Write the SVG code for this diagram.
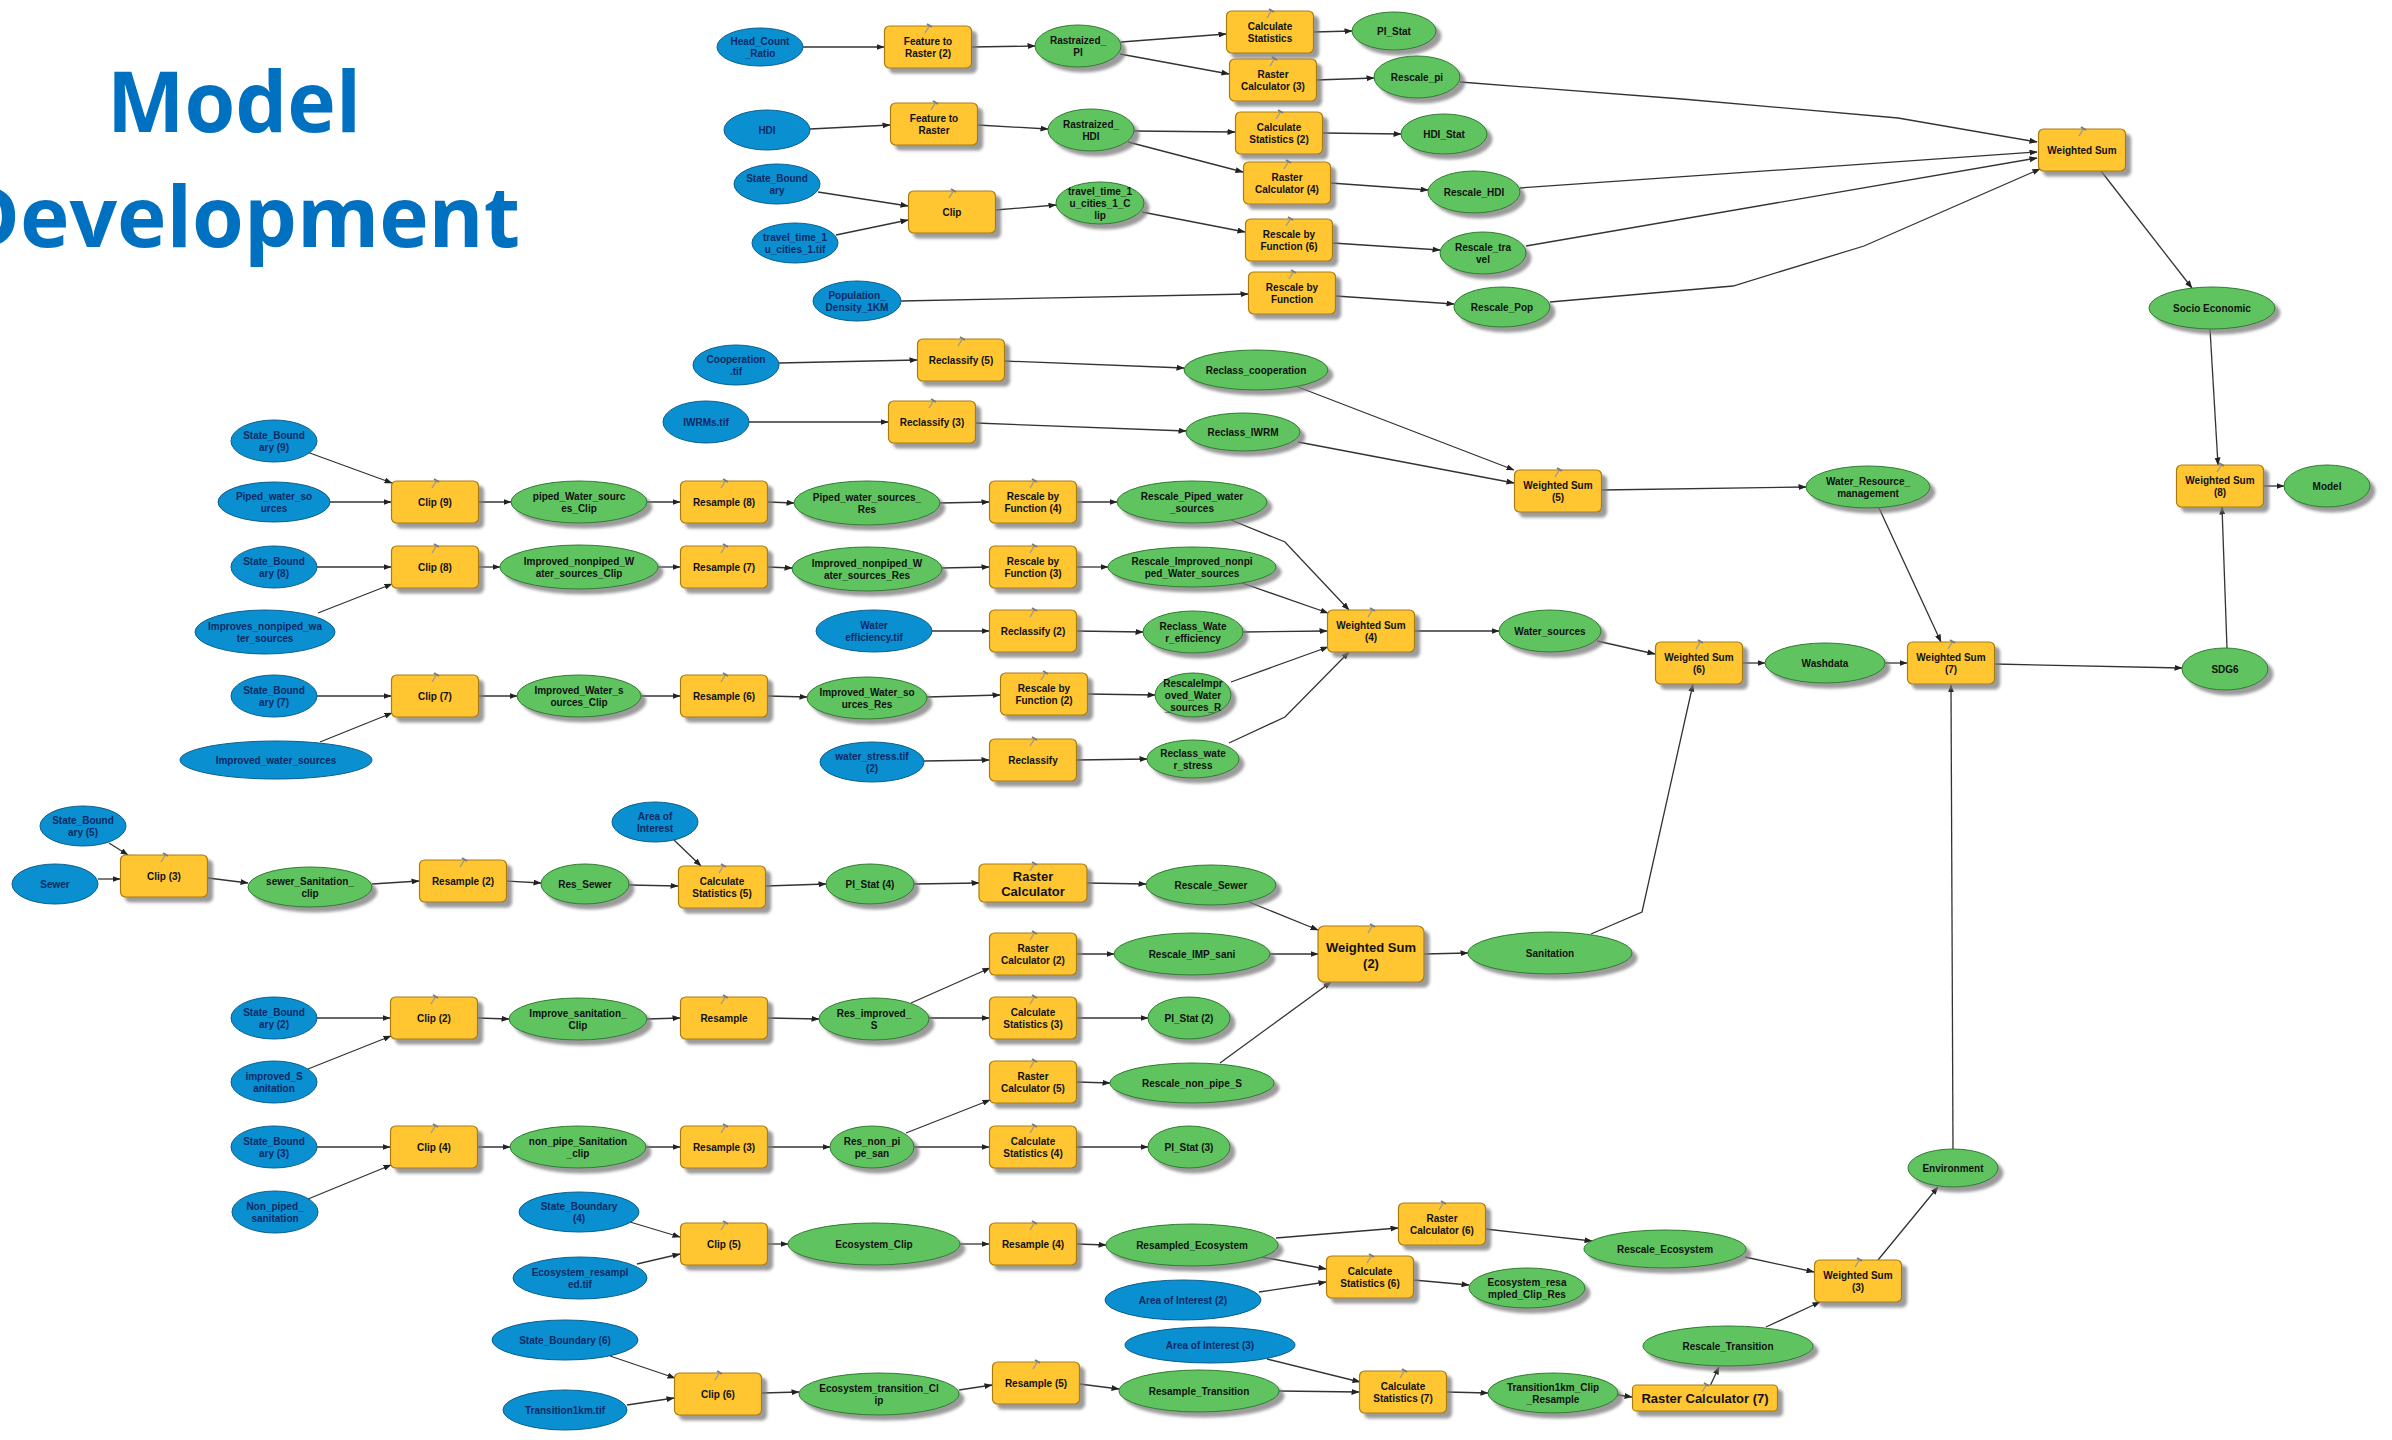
<svg xmlns="http://www.w3.org/2000/svg" xmlns:xlink="http://www.w3.org/1999/xlink" width="2392" height="1440" viewBox="0 0 2392 1440">
<defs>
<style>
.b{fill:#0A90D0;stroke:#0B5E8E;stroke-width:1}
.g{fill:#5EC45E;stroke:#2F7A2F;stroke-width:1;filter:url(#sh)}
.y{fill:#FFC631;stroke:#A97C10;stroke-width:1.2;filter:url(#sh)}
.t{font-family:"Liberation Sans",Arial,sans-serif;font-weight:bold;font-size:10px;fill:#111;text-anchor:middle;dominant-baseline:central}
.tb{fill:#0B2A66}
.tl{font-size:13px}
.c{fill:none;stroke:#333;stroke-width:1.3;marker-end:url(#ah)}
.title{font-family:"Open Sans","Noto Sans",sans-serif;font-weight:bold;font-size:85px;fill:#0070C0}
</style>
<marker id="ah" markerWidth="8" markerHeight="6" refX="7.5" refY="3" orient="auto" markerUnits="userSpaceOnUse"><path d="M0,0 L8,3 L0,6 z" fill="#222"/></marker>
<filter id="sh" x="-20%" y="-20%" width="150%" height="170%"><feDropShadow dx="5" dy="5" stdDeviation="1.5" flood-color="#7a7a7a" flood-opacity="0.75"/></filter>
<symbol id="hm" viewBox="0 0 10 12" width="10" height="12"><path d="M2,11 L7,3" stroke="#9a9a9a" stroke-width="1.4"/><path d="M4,2 L9,5" stroke="#7a7a7a" stroke-width="2"/></symbol>
</defs>
<rect width="2392" height="1440" fill="#ffffff"/>
<g id="title">
<text class="title" x="107" y="132" textLength="254" lengthAdjust="spacingAndGlyphs">Model</text>
<text class="title" x="-42" y="247" textLength="562" lengthAdjust="spacingAndGlyphs">Development</text>
</g>
<g id="connectors">
<path class="c" d="M803,47 L884,47"/>
<path class="c" d="M971.5,47 L1035,46"/>
<path class="c" d="M1121,42 L1226,34"/>
<path class="c" d="M1120,54 L1229,74"/>
<path class="c" d="M1313.5,32 L1352,31"/>
<path class="c" d="M1316.5,80 L1374,78"/>
<path class="c" d="M1460,82 L1682,99 L1898,118 L2037,142"/>
<path class="c" d="M810,129 L890,125"/>
<path class="c" d="M977.5,125 L1048,129"/>
<path class="c" d="M1134,131 L1235,132"/>
<path class="c" d="M1128,142 L1243,172"/>
<path class="c" d="M1322.5,133 L1401,134"/>
<path class="c" d="M1330.5,183 L1428,190"/>
<path class="c" d="M1520,188 L2037,152"/>
<path class="c" d="M818,192 L908,206"/>
<path class="c" d="M836,235 L908,220"/>
<path class="c" d="M995.5,210 L1056,205"/>
<path class="c" d="M1142,212 L1245,232"/>
<path class="c" d="M1332.5,243 L1440,250"/>
<path class="c" d="M1526,246 L2037,158"/>
<path class="c" d="M901,301 L1248,294"/>
<path class="c" d="M1335.5,296 L1454,304"/>
<path class="c" d="M1550,302 L1733,286 L1864,246 L2040,169"/>
<path class="c" d="M2101,171 L2192,288"/>
<path class="c" d="M2210,329 L2218,465"/>
<path class="c" d="M2263.5,486 L2284,486"/>
<path class="c" d="M2227,648 L2222,507"/>
<path class="c" d="M1994.5,664 L2182,668"/>
<path class="c" d="M1885,663 L1907,663"/>
<path class="c" d="M1742.5,663 L1765,663"/>
<path class="c" d="M1597,641 L1655,654"/>
<path class="c" d="M1879,508 L1941,642"/>
<path class="c" d="M1601.5,490 L1806,487"/>
<path class="c" d="M1298,387 L1514,470"/>
<path class="c" d="M1298,442 L1514,483"/>
<path class="c" d="M779,363 L917,360"/>
<path class="c" d="M1004.5,361 L1184,368"/>
<path class="c" d="M749,422 L888,422"/>
<path class="c" d="M975.5,423 L1186,431"/>
<path class="c" d="M1414.5,631 L1499,631"/>
<path class="c" d="M1231,520 L1285,542 L1349,610"/>
<path class="c" d="M1242,583 L1328,613"/>
<path class="c" d="M1243,632 L1327,631"/>
<path class="c" d="M1231,682 L1328,647"/>
<path class="c" d="M1229,743 L1285,717 L1349,652"/>
<path class="c" d="M932,631 L989,631"/>
<path class="c" d="M1076.5,631 L1143,632"/>
<path class="c" d="M924,761 L989,760"/>
<path class="c" d="M1076.5,760 L1147,759"/>
<path class="c" d="M307,452 L392,483"/>
<path class="c" d="M330,502 L391,502"/>
<path class="c" d="M478.5,502 L511,502"/>
<path class="c" d="M647,502 L680,502"/>
<path class="c" d="M767.5,502 L794,503"/>
<path class="c" d="M940,503 L989,502"/>
<path class="c" d="M1076.5,502 L1117,502"/>
<path class="c" d="M317,567 L391,567"/>
<path class="c" d="M318,613 L392,584"/>
<path class="c" d="M478.5,567 L500,567"/>
<path class="c" d="M658,567 L680,567"/>
<path class="c" d="M767.5,567 L792,568"/>
<path class="c" d="M942,568 L989,567"/>
<path class="c" d="M1076.5,567 L1108,567"/>
<path class="c" d="M317,696 L391,696"/>
<path class="c" d="M320,742 L392,713"/>
<path class="c" d="M478.5,696 L517,696"/>
<path class="c" d="M641,696 L680,696"/>
<path class="c" d="M767.5,696 L807,697"/>
<path class="c" d="M927,697 L1000,695"/>
<path class="c" d="M1087.5,694 L1155,695"/>
<path class="c" d="M109,843 L128,855"/>
<path class="c" d="M98,879 L120,879"/>
<path class="c" d="M208,878 L248,883"/>
<path class="c" d="M372,884 L419,881"/>
<path class="c" d="M506.5,881 L541,883"/>
<path class="c" d="M629,885 L678,886"/>
<path class="c" d="M674,840 L701,866"/>
<path class="c" d="M765.5,886 L826,884"/>
<path class="c" d="M914,884 L979,883"/>
<path class="c" d="M1087,883 L1146,884"/>
<path class="c" d="M1249,902 L1318,930"/>
<path class="c" d="M1270,954 L1318,954"/>
<path class="c" d="M1220,1063 L1331,982"/>
<path class="c" d="M1424,954 L1468,953"/>
<path class="c" d="M1591,934 L1642,912 L1693,684"/>
<path class="c" d="M317,1018 L390,1018"/>
<path class="c" d="M308,1069 L391,1036"/>
<path class="c" d="M477.5,1018 L509,1019"/>
<path class="c" d="M647,1019 L680,1018"/>
<path class="c" d="M767.5,1018 L819,1019"/>
<path class="c" d="M911,1003 L990,968"/>
<path class="c" d="M929,1018 L989,1018"/>
<path class="c" d="M1076.5,954 L1114,954"/>
<path class="c" d="M1076.5,1018 L1148,1018"/>
<path class="c" d="M1076.5,1082 L1110,1083"/>
<path class="c" d="M317,1147 L390,1147"/>
<path class="c" d="M308,1199 L391,1165"/>
<path class="c" d="M477.5,1147 L510,1147"/>
<path class="c" d="M646,1147 L680,1147"/>
<path class="c" d="M767.5,1147 L830,1147"/>
<path class="c" d="M906,1133 L990,1100"/>
<path class="c" d="M914,1147 L989,1147"/>
<path class="c" d="M1076.5,1147 L1148,1147"/>
<path class="c" d="M630,1222 L680,1237"/>
<path class="c" d="M637,1264 L680,1254"/>
<path class="c" d="M767.5,1244 L788,1244"/>
<path class="c" d="M960,1244 L989,1244"/>
<path class="c" d="M1076.5,1244 L1106,1245"/>
<path class="c" d="M1276,1238 L1398,1228"/>
<path class="c" d="M1262,1257 L1326,1269"/>
<path class="c" d="M1259,1292 L1326,1282"/>
<path class="c" d="M1413.5,1280 L1469,1285"/>
<path class="c" d="M1485.5,1229 L1592,1241"/>
<path class="c" d="M1745,1257 L1814,1272"/>
<path class="c" d="M1766,1327 L1820,1302"/>
<path class="c" d="M1878,1260 L1938,1187"/>
<path class="c" d="M1953,1149 L1951,685"/>
<path class="c" d="M610,1356 L675,1378"/>
<path class="c" d="M627,1405 L674,1398"/>
<path class="c" d="M761.5,1393 L799,1392"/>
<path class="c" d="M959,1390 L992,1385"/>
<path class="c" d="M1079.5,1384 L1119,1389"/>
<path class="c" d="M1279,1391 L1359,1392"/>
<path class="c" d="M1267,1359 L1360,1382"/>
<path class="c" d="M1446.5,1392 L1488,1393"/>
<path class="c" d="M1618,1395 L1632,1397"/>
<path class="c" d="M1710,1386 L1719,1367"/>
</g>
<g id="n_hcr"><ellipse class="b" cx="760" cy="47" rx="43" ry="19"/><text class="t tb"><tspan x="760" y="41">Head_Count</tspan><tspan x="760" y="53">_Ratio</tspan></text></g>
<g id="n_ftr2"><rect class="y" x="884.5" y="26" width="87" height="42" rx="5"/><use xlink:href="#hm" x="923" y="22"/><text class="t"><tspan x="928" y="41">Feature to</tspan><tspan x="928" y="53">Raster (2)</tspan></text></g>
<g id="n_rpi"><ellipse class="g" cx="1078" cy="46" rx="43" ry="21"/><text class="t"><tspan x="1078" y="40">Rastraized_</tspan><tspan x="1078" y="52">PI</tspan></text></g>
<g id="n_cs"><rect class="y" x="1226.5" y="11" width="87" height="42" rx="5"/><use xlink:href="#hm" x="1265" y="7"/><text class="t"><tspan x="1270" y="26">Calculate</tspan><tspan x="1270" y="38">Statistics</tspan></text></g>
<g id="n_pistat"><ellipse class="g" cx="1394" cy="31" rx="42" ry="19"/><text class="t" x="1394" y="31">PI_Stat</text></g>
<g id="n_rc3"><rect class="y" x="1229.5" y="59" width="87" height="42" rx="5"/><use xlink:href="#hm" x="1268" y="55"/><text class="t"><tspan x="1273" y="74">Raster</tspan><tspan x="1273" y="86">Calculator (3)</tspan></text></g>
<g id="n_rescpi"><ellipse class="g" cx="1417" cy="77" rx="43" ry="21"/><text class="t" x="1417" y="77">Rescale_pi</text></g>
<g id="n_hdi"><ellipse class="b" cx="767" cy="130" rx="43" ry="20"/><text class="t tb" x="767" y="130">HDI</text></g>
<g id="n_ftr"><rect class="y" x="890.5" y="103" width="87" height="42" rx="5"/><use xlink:href="#hm" x="929" y="99"/><text class="t"><tspan x="934" y="118">Feature to</tspan><tspan x="934" y="130">Raster</tspan></text></g>
<g id="n_rhdi"><ellipse class="g" cx="1091" cy="130" rx="43" ry="21"/><text class="t"><tspan x="1091" y="124">Rastraized_</tspan><tspan x="1091" y="136">HDI</tspan></text></g>
<g id="n_cs2"><rect class="y" x="1235.5" y="112" width="87" height="42" rx="5"/><use xlink:href="#hm" x="1274" y="108"/><text class="t"><tspan x="1279" y="127">Calculate</tspan><tspan x="1279" y="139">Statistics (2)</tspan></text></g>
<g id="n_hdistat"><ellipse class="g" cx="1444" cy="134" rx="43" ry="20"/><text class="t" x="1444" y="134">HDI_Stat</text></g>
<g id="n_rc4"><rect class="y" x="1243.5" y="162" width="87" height="42" rx="5"/><use xlink:href="#hm" x="1282" y="158"/><text class="t"><tspan x="1287" y="177">Raster</tspan><tspan x="1287" y="189">Calculator (4)</tspan></text></g>
<g id="n_reschdi"><ellipse class="g" cx="1474" cy="192" rx="46" ry="21"/><text class="t" x="1474" y="192">Rescale_HDI</text></g>
<g id="n_sb"><ellipse class="b" cx="777" cy="184" rx="43" ry="20"/><text class="t tb"><tspan x="777" y="178">State_Bound</tspan><tspan x="777" y="190">ary</tspan></text></g>
<g id="n_tt"><ellipse class="b" cx="795" cy="243" rx="43" ry="20"/><text class="t tb"><tspan x="795" y="237">travel_time_1</tspan><tspan x="795" y="249">u_cities_1.tif</tspan></text></g>
<g id="n_clip"><rect class="y" x="908.5" y="191" width="87" height="42" rx="5"/><use xlink:href="#hm" x="947" y="187"/><text class="t" x="952" y="212">Clip</text></g>
<g id="n_ttclip"><ellipse class="g" cx="1100" cy="203" rx="44" ry="21"/><text class="t"><tspan x="1100" y="191">travel_time_1</tspan><tspan x="1100" y="203">u_cities_1_C</tspan><tspan x="1100" y="215">lip</tspan></text></g>
<g id="n_rbf6"><rect class="y" x="1245.5" y="219" width="87" height="42" rx="5"/><use xlink:href="#hm" x="1284" y="215"/><text class="t"><tspan x="1289" y="234">Rescale by</tspan><tspan x="1289" y="246">Function (6)</tspan></text></g>
<g id="n_restrav"><ellipse class="g" cx="1483" cy="253" rx="43" ry="21"/><text class="t"><tspan x="1483" y="247">Rescale_tra</tspan><tspan x="1483" y="259">vel</tspan></text></g>
<g id="n_pop"><ellipse class="b" cx="857" cy="301" rx="44" ry="20"/><text class="t tb"><tspan x="857" y="295">Population_</tspan><tspan x="857" y="307">Density_1KM</tspan></text></g>
<g id="n_rbf"><rect class="y" x="1248.5" y="272" width="87" height="42" rx="5"/><use xlink:href="#hm" x="1287" y="268"/><text class="t"><tspan x="1292" y="287">Rescale by</tspan><tspan x="1292" y="299">Function</tspan></text></g>
<g id="n_respop"><ellipse class="g" cx="1502" cy="307" rx="48" ry="20"/><text class="t" x="1502" y="307">Rescale_Pop</text></g>
<g id="n_ws"><rect class="y" x="2038.5" y="129" width="87" height="42" rx="5"/><use xlink:href="#hm" x="2077" y="125"/><text class="t" x="2082" y="150">Weighted Sum</text></g>
<g id="n_socio"><ellipse class="g" cx="2212" cy="308" rx="63" ry="21"/><text class="t" x="2212" y="308">Socio Economic</text></g>
<g id="n_ws8"><rect class="y" x="2176.5" y="465" width="87" height="42" rx="5"/><use xlink:href="#hm" x="2215" y="461"/><text class="t"><tspan x="2220" y="480">Weighted Sum</tspan><tspan x="2220" y="492">(8)</tspan></text></g>
<g id="n_model"><ellipse class="g" cx="2327" cy="486" rx="43" ry="21"/><text class="t" x="2327" y="486">Model</text></g>
<g id="n_sdg6"><ellipse class="g" cx="2225" cy="669" rx="43" ry="21"/><text class="t" x="2225" y="669">SDG6</text></g>
<g id="n_ws7"><rect class="y" x="1907.5" y="642" width="87" height="42" rx="5"/><use xlink:href="#hm" x="1946" y="638"/><text class="t"><tspan x="1951" y="657">Weighted Sum</tspan><tspan x="1951" y="669">(7)</tspan></text></g>
<g id="n_wash"><ellipse class="g" cx="1825" cy="663" rx="60" ry="20"/><text class="t" x="1825" y="663">Washdata</text></g>
<g id="n_ws6"><rect class="y" x="1655.5" y="642" width="87" height="42" rx="5"/><use xlink:href="#hm" x="1694" y="638"/><text class="t"><tspan x="1699" y="657">Weighted Sum</tspan><tspan x="1699" y="669">(6)</tspan></text></g>
<g id="n_wsrc"><ellipse class="g" cx="1550" cy="631" rx="51" ry="21"/><text class="t" x="1550" y="631">Water_sources</text></g>
<g id="n_wrm"><ellipse class="g" cx="1868" cy="487" rx="62" ry="21"/><text class="t"><tspan x="1868" y="481">Water_Resource_</tspan><tspan x="1868" y="493">management</tspan></text></g>
<g id="n_ws5"><rect class="y" x="1514.5" y="470" width="87" height="42" rx="5"/><use xlink:href="#hm" x="1553" y="466"/><text class="t"><tspan x="1558" y="485">Weighted Sum</tspan><tspan x="1558" y="497">(5)</tspan></text></g>
<g id="n_coop"><ellipse class="b" cx="736" cy="365" rx="43" ry="20"/><text class="t tb"><tspan x="736" y="359">Cooperation</tspan><tspan x="736" y="371">.tif</tspan></text></g>
<g id="n_rcl5"><rect class="y" x="917.5" y="339" width="87" height="42" rx="5"/><use xlink:href="#hm" x="956" y="335"/><text class="t" x="961" y="360">Reclassify (5)</text></g>
<g id="n_rcoop"><ellipse class="g" cx="1256" cy="370" rx="72" ry="20"/><text class="t" x="1256" y="370">Reclass_cooperation</text></g>
<g id="n_iwrm"><ellipse class="b" cx="706" cy="422" rx="43" ry="21"/><text class="t tb" x="706" y="422">IWRMs.tif</text></g>
<g id="n_rcl3"><rect class="y" x="888.5" y="401" width="87" height="42" rx="5"/><use xlink:href="#hm" x="927" y="397"/><text class="t" x="932" y="422">Reclassify (3)</text></g>
<g id="n_riwrm"><ellipse class="g" cx="1243" cy="432" rx="57" ry="19"/><text class="t" x="1243" y="432">Reclass_IWRM</text></g>
<g id="n_sb9"><ellipse class="b" cx="274" cy="441" rx="43" ry="21"/><text class="t tb"><tspan x="274" y="435">State_Bound</tspan><tspan x="274" y="447">ary (9)</tspan></text></g>
<g id="n_piped"><ellipse class="b" cx="274" cy="502" rx="56" ry="20"/><text class="t tb"><tspan x="274" y="496">Piped_water_so</tspan><tspan x="274" y="508">urces</tspan></text></g>
<g id="n_clip9"><rect class="y" x="391.5" y="481" width="87" height="42" rx="5"/><use xlink:href="#hm" x="430" y="477"/><text class="t" x="435" y="502">Clip (9)</text></g>
<g id="n_pipedclip"><ellipse class="g" cx="579" cy="502" rx="68" ry="21"/><text class="t"><tspan x="579" y="496">piped_Water_sourc</tspan><tspan x="579" y="508">es_Clip</tspan></text></g>
<g id="n_res8"><rect class="y" x="680.5" y="481" width="87" height="42" rx="5"/><use xlink:href="#hm" x="719" y="477"/><text class="t" x="724" y="502">Resample (8)</text></g>
<g id="n_pipedres"><ellipse class="g" cx="867" cy="503" rx="73" ry="22"/><text class="t"><tspan x="867" y="497">Piped_water_sources_</tspan><tspan x="867" y="509">Res</tspan></text></g>
<g id="n_rbf4"><rect class="y" x="989.5" y="481" width="87" height="42" rx="5"/><use xlink:href="#hm" x="1028" y="477"/><text class="t"><tspan x="1033" y="496">Rescale by</tspan><tspan x="1033" y="508">Function (4)</tspan></text></g>
<g id="n_rescpiped"><ellipse class="g" cx="1192" cy="502" rx="75" ry="21"/><text class="t"><tspan x="1192" y="496">Rescale_Piped_water</tspan><tspan x="1192" y="508">_sources</tspan></text></g>
<g id="n_sb8"><ellipse class="b" cx="274" cy="567" rx="43" ry="21"/><text class="t tb"><tspan x="274" y="561">State_Bound</tspan><tspan x="274" y="573">ary (8)</tspan></text></g>
<g id="n_clip8"><rect class="y" x="391.5" y="546" width="87" height="42" rx="5"/><use xlink:href="#hm" x="430" y="542"/><text class="t" x="435" y="567">Clip (8)</text></g>
<g id="n_inpclip"><ellipse class="g" cx="579" cy="567" rx="79" ry="22"/><text class="t"><tspan x="579" y="561">Improved_nonpiped_W</tspan><tspan x="579" y="573">ater_sources_Clip</tspan></text></g>
<g id="n_res7"><rect class="y" x="680.5" y="546" width="87" height="42" rx="5"/><use xlink:href="#hm" x="719" y="542"/><text class="t" x="724" y="567">Resample (7)</text></g>
<g id="n_inpres"><ellipse class="g" cx="867" cy="569" rx="75" ry="22"/><text class="t"><tspan x="867" y="563">Improved_nonpiped_W</tspan><tspan x="867" y="575">ater_sources_Res</tspan></text></g>
<g id="n_rbf3"><rect class="y" x="989.5" y="546" width="87" height="42" rx="5"/><use xlink:href="#hm" x="1028" y="542"/><text class="t"><tspan x="1033" y="561">Rescale by</tspan><tspan x="1033" y="573">Function (3)</tspan></text></g>
<g id="n_rescinp"><ellipse class="g" cx="1192" cy="567" rx="84" ry="20"/><text class="t"><tspan x="1192" y="561">Rescale_Improved_nonpi</tspan><tspan x="1192" y="573">ped_Water_sources</tspan></text></g>
<g id="n_impnp"><ellipse class="b" cx="265" cy="632" rx="70" ry="22"/><text class="t tb"><tspan x="265" y="626">Improves_nonpiped_wa</tspan><tspan x="265" y="638">ter_sources</tspan></text></g>
<g id="n_weff"><ellipse class="b" cx="874" cy="631" rx="58" ry="21"/><text class="t tb"><tspan x="874" y="625">Water</tspan><tspan x="874" y="637">efficiency.tif</tspan></text></g>
<g id="n_rcl2"><rect class="y" x="989.5" y="610" width="87" height="42" rx="5"/><use xlink:href="#hm" x="1028" y="606"/><text class="t" x="1033" y="631">Reclassify (2)</text></g>
<g id="n_rweff"><ellipse class="g" cx="1193" cy="632" rx="50" ry="21"/><text class="t"><tspan x="1193" y="626">Reclass_Wate</tspan><tspan x="1193" y="638">r_efficiency</tspan></text></g>
<g id="n_ws4"><rect class="y" x="1327.5" y="610" width="87" height="42" rx="5"/><use xlink:href="#hm" x="1366" y="606"/><text class="t"><tspan x="1371" y="625">Weighted Sum</tspan><tspan x="1371" y="637">(4)</tspan></text></g>
<g id="n_sb7"><ellipse class="b" cx="274" cy="696" rx="43" ry="21"/><text class="t tb"><tspan x="274" y="690">State_Bound</tspan><tspan x="274" y="702">ary (7)</tspan></text></g>
<g id="n_clip7"><rect class="y" x="391.5" y="675" width="87" height="42" rx="5"/><use xlink:href="#hm" x="430" y="671"/><text class="t" x="435" y="696">Clip (7)</text></g>
<g id="n_iwsclip"><ellipse class="g" cx="579" cy="696" rx="62" ry="21"/><text class="t"><tspan x="579" y="690">Improved_Water_s</tspan><tspan x="579" y="702">ources_Clip</tspan></text></g>
<g id="n_res6"><rect class="y" x="680.5" y="675" width="87" height="42" rx="5"/><use xlink:href="#hm" x="719" y="671"/><text class="t" x="724" y="696">Resample (6)</text></g>
<g id="n_iwsres"><ellipse class="g" cx="867" cy="698" rx="60" ry="21"/><text class="t"><tspan x="867" y="692">Improved_Water_so</tspan><tspan x="867" y="704">urces_Res</tspan></text></g>
<g id="n_rbf2"><rect class="y" x="1000.5" y="673" width="87" height="42" rx="5"/><use xlink:href="#hm" x="1039" y="669"/><text class="t"><tspan x="1044" y="688">Rescale by</tspan><tspan x="1044" y="700">Function (2)</tspan></text></g>
<g id="n_rsciws"><ellipse class="g" cx="1193" cy="695" rx="38" ry="22"/><text class="t"><tspan x="1193" y="683">RescaleImpr</tspan><tspan x="1193" y="695">oved_Water</tspan><tspan x="1193" y="707">_sources_R</tspan></text></g>
<g id="n_iws"><ellipse class="b" cx="276" cy="760" rx="96" ry="19"/><text class="t tb" x="276" y="760">Improved_water_sources</text></g>
<g id="n_wstress"><ellipse class="b" cx="872" cy="762" rx="52" ry="20"/><text class="t tb"><tspan x="872" y="756">water_stress.tif</tspan><tspan x="872" y="768">(2)</tspan></text></g>
<g id="n_rcl"><rect class="y" x="989.5" y="739" width="87" height="42" rx="5"/><use xlink:href="#hm" x="1028" y="735"/><text class="t" x="1033" y="760">Reclassify</text></g>
<g id="n_rwstress"><ellipse class="g" cx="1193" cy="759" rx="46" ry="19"/><text class="t"><tspan x="1193" y="753">Reclass_wate</tspan><tspan x="1193" y="765">r_stress</tspan></text></g>
<g id="n_sb5"><ellipse class="b" cx="83" cy="826" rx="43" ry="20"/><text class="t tb"><tspan x="83" y="820">State_Bound</tspan><tspan x="83" y="832">ary (5)</tspan></text></g>
<g id="n_sewer"><ellipse class="b" cx="55" cy="884" rx="43" ry="20"/><text class="t tb" x="55" y="884">Sewer</text></g>
<g id="n_clip3"><rect class="y" x="120.5" y="855" width="87" height="42" rx="5"/><use xlink:href="#hm" x="159" y="851"/><text class="t" x="164" y="876">Clip (3)</text></g>
<g id="n_sewclip"><ellipse class="g" cx="310" cy="887" rx="62" ry="20"/><text class="t"><tspan x="310" y="881">sewer_Sanitation_</tspan><tspan x="310" y="893">clip</tspan></text></g>
<g id="n_res2"><rect class="y" x="419.5" y="860" width="87" height="42" rx="5"/><use xlink:href="#hm" x="458" y="856"/><text class="t" x="463" y="881">Resample (2)</text></g>
<g id="n_ressewer"><ellipse class="g" cx="585" cy="884" rx="44" ry="20"/><text class="t" x="585" y="884">Res_Sewer</text></g>
<g id="n_aoi"><ellipse class="b" cx="655" cy="822" rx="43" ry="20"/><text class="t tb"><tspan x="655" y="816">Area of</tspan><tspan x="655" y="828">Interest</tspan></text></g>
<g id="n_cs5"><rect class="y" x="678.5" y="866" width="87" height="42" rx="5"/><use xlink:href="#hm" x="717" y="862"/><text class="t"><tspan x="722" y="881">Calculate</tspan><tspan x="722" y="893">Statistics (5)</tspan></text></g>
<g id="n_pistat4"><ellipse class="g" cx="870" cy="884" rx="44" ry="20"/><text class="t" x="870" y="884">PI_Stat (4)</text></g>
<g id="n_rc"><rect class="y" x="979" y="864" width="108" height="38" rx="5"/><use xlink:href="#hm" x="1028" y="860"/><text class="t tl"><tspan x="1033" y="876">Raster</tspan><tspan x="1033" y="891">Calculator</tspan></text></g>
<g id="n_rscsewer"><ellipse class="g" cx="1211" cy="885" rx="65" ry="20"/><text class="t" x="1211" y="885">Rescale_Sewer</text></g>
<g id="n_ws2"><rect class="y" x="1318" y="926" width="106" height="56" rx="6"/><use xlink:href="#hm" x="1366" y="922"/><text class="t tl"><tspan x="1371" y="947">Weighted Sum</tspan><tspan x="1371" y="963">(2)</tspan></text></g>
<g id="n_sanit"><ellipse class="g" cx="1550" cy="953" rx="82" ry="21"/><text class="t" x="1550" y="953">Sanitation</text></g>
<g id="n_sb2"><ellipse class="b" cx="274" cy="1018" rx="43" ry="21"/><text class="t tb"><tspan x="274" y="1012">State_Bound</tspan><tspan x="274" y="1024">ary (2)</tspan></text></g>
<g id="n_impsan"><ellipse class="b" cx="274" cy="1082" rx="43" ry="21"/><text class="t tb"><tspan x="274" y="1076">improved_S</tspan><tspan x="274" y="1088">anitation</tspan></text></g>
<g id="n_clip2"><rect class="y" x="390.5" y="997" width="87" height="42" rx="5"/><use xlink:href="#hm" x="429" y="993"/><text class="t" x="434" y="1018">Clip (2)</text></g>
<g id="n_impsanclip"><ellipse class="g" cx="578" cy="1019" rx="69" ry="21"/><text class="t"><tspan x="578" y="1013">Improve_sanitation_</tspan><tspan x="578" y="1025">Clip</tspan></text></g>
<g id="n_resample"><rect class="y" x="680.5" y="997" width="87" height="42" rx="5"/><use xlink:href="#hm" x="719" y="993"/><text class="t" x="724" y="1018">Resample</text></g>
<g id="n_resimps"><ellipse class="g" cx="874" cy="1019" rx="55" ry="21"/><text class="t"><tspan x="874" y="1013">Res_improved_</tspan><tspan x="874" y="1025">S</tspan></text></g>
<g id="n_rc2"><rect class="y" x="989.5" y="933" width="87" height="42" rx="5"/><use xlink:href="#hm" x="1028" y="929"/><text class="t"><tspan x="1033" y="948">Raster</tspan><tspan x="1033" y="960">Calculator (2)</tspan></text></g>
<g id="n_rscimp"><ellipse class="g" cx="1192" cy="954" rx="78" ry="21"/><text class="t" x="1192" y="954">Rescale_IMP_sani</text></g>
<g id="n_cs3"><rect class="y" x="989.5" y="997" width="87" height="42" rx="5"/><use xlink:href="#hm" x="1028" y="993"/><text class="t"><tspan x="1033" y="1012">Calculate</tspan><tspan x="1033" y="1024">Statistics (3)</tspan></text></g>
<g id="n_pistat2"><ellipse class="g" cx="1189" cy="1018" rx="41" ry="21"/><text class="t" x="1189" y="1018">PI_Stat (2)</text></g>
<g id="n_rc5"><rect class="y" x="989.5" y="1061" width="87" height="42" rx="5"/><use xlink:href="#hm" x="1028" y="1057"/><text class="t"><tspan x="1033" y="1076">Raster</tspan><tspan x="1033" y="1088">Calculator (5)</tspan></text></g>
<g id="n_rscnp"><ellipse class="g" cx="1192" cy="1083" rx="82" ry="20"/><text class="t" x="1192" y="1083">Rescale_non_pipe_S</text></g>
<g id="n_sb3"><ellipse class="b" cx="274" cy="1147" rx="43" ry="21"/><text class="t tb"><tspan x="274" y="1141">State_Bound</tspan><tspan x="274" y="1153">ary (3)</tspan></text></g>
<g id="n_clip4"><rect class="y" x="390.5" y="1126" width="87" height="42" rx="5"/><use xlink:href="#hm" x="429" y="1122"/><text class="t" x="434" y="1147">Clip (4)</text></g>
<g id="n_npclip"><ellipse class="g" cx="578" cy="1147" rx="68" ry="21"/><text class="t"><tspan x="578" y="1141">non_pipe_Sanitation</tspan><tspan x="578" y="1153">_clip</tspan></text></g>
<g id="n_res3"><rect class="y" x="680.5" y="1126" width="87" height="42" rx="5"/><use xlink:href="#hm" x="719" y="1122"/><text class="t" x="724" y="1147">Resample (3)</text></g>
<g id="n_resnp"><ellipse class="g" cx="872" cy="1147" rx="42" ry="21"/><text class="t"><tspan x="872" y="1141">Res_non_pi</tspan><tspan x="872" y="1153">pe_san</tspan></text></g>
<g id="n_cs4"><rect class="y" x="989.5" y="1126" width="87" height="42" rx="5"/><use xlink:href="#hm" x="1028" y="1122"/><text class="t"><tspan x="1033" y="1141">Calculate</tspan><tspan x="1033" y="1153">Statistics (4)</tspan></text></g>
<g id="n_pistat3"><ellipse class="g" cx="1189" cy="1147" rx="41" ry="21"/><text class="t" x="1189" y="1147">PI_Stat (3)</text></g>
<g id="n_nonpiped"><ellipse class="b" cx="275" cy="1212" rx="43" ry="21"/><text class="t tb"><tspan x="275" y="1206">Non_piped_</tspan><tspan x="275" y="1218">sanitation</tspan></text></g>
<g id="n_sb4"><ellipse class="b" cx="579" cy="1212" rx="60" ry="20"/><text class="t tb"><tspan x="579" y="1206">State_Boundary</tspan><tspan x="579" y="1218">(4)</tspan></text></g>
<g id="n_ecores"><ellipse class="b" cx="580" cy="1278" rx="67" ry="21"/><text class="t tb"><tspan x="580" y="1272">Ecosystem_resampl</tspan><tspan x="580" y="1284">ed.tif</tspan></text></g>
<g id="n_clip5"><rect class="y" x="680.5" y="1223" width="87" height="42" rx="5"/><use xlink:href="#hm" x="719" y="1219"/><text class="t" x="724" y="1244">Clip (5)</text></g>
<g id="n_ecoclip"><ellipse class="g" cx="874" cy="1244" rx="86" ry="21"/><text class="t" x="874" y="1244">Ecosystem_Clip</text></g>
<g id="n_res4"><rect class="y" x="989.5" y="1223" width="87" height="42" rx="5"/><use xlink:href="#hm" x="1028" y="1219"/><text class="t" x="1033" y="1244">Resample (4)</text></g>
<g id="n_resampeco"><ellipse class="g" cx="1192" cy="1245" rx="86" ry="21"/><text class="t" x="1192" y="1245">Resampled_Ecosystem</text></g>
<g id="n_rc6"><rect class="y" x="1398.5" y="1203" width="87" height="42" rx="5"/><use xlink:href="#hm" x="1437" y="1199"/><text class="t"><tspan x="1442" y="1218">Raster</tspan><tspan x="1442" y="1230">Calculator (6)</tspan></text></g>
<g id="n_cs6"><rect class="y" x="1326.5" y="1256" width="87" height="42" rx="5"/><use xlink:href="#hm" x="1365" y="1252"/><text class="t"><tspan x="1370" y="1271">Calculate</tspan><tspan x="1370" y="1283">Statistics (6)</tspan></text></g>
<g id="n_aoi2"><ellipse class="b" cx="1183" cy="1300" rx="78" ry="20"/><text class="t tb" x="1183" y="1300">Area of Interest (2)</text></g>
<g id="n_ecoclipres"><ellipse class="g" cx="1527" cy="1288" rx="58" ry="20"/><text class="t"><tspan x="1527" y="1282">Ecosystem_resa</tspan><tspan x="1527" y="1294">mpled_Clip_Res</tspan></text></g>
<g id="n_rsceco"><ellipse class="g" cx="1665" cy="1249" rx="81" ry="19"/><text class="t" x="1665" y="1249">Rescale_Ecosystem</text></g>
<g id="n_ws3"><rect class="y" x="1814.5" y="1260" width="87" height="42" rx="5"/><use xlink:href="#hm" x="1853" y="1256"/><text class="t"><tspan x="1858" y="1275">Weighted Sum</tspan><tspan x="1858" y="1287">(3)</tspan></text></g>
<g id="n_env"><ellipse class="g" cx="1953" cy="1168" rx="45" ry="19"/><text class="t" x="1953" y="1168">Environment</text></g>
<g id="n_sb6"><ellipse class="b" cx="565" cy="1340" rx="73" ry="20"/><text class="t tb" x="565" y="1340">State_Boundary (6)</text></g>
<g id="n_trans"><ellipse class="b" cx="565" cy="1410" rx="62" ry="20"/><text class="t tb" x="565" y="1410">Transition1km.tif</text></g>
<g id="n_clip6"><rect class="y" x="674.5" y="1373" width="87" height="42" rx="5"/><use xlink:href="#hm" x="713" y="1369"/><text class="t" x="718" y="1394">Clip (6)</text></g>
<g id="n_ecotrclip"><ellipse class="g" cx="879" cy="1394" rx="80" ry="21"/><text class="t"><tspan x="879" y="1388">Ecosystem_transition_Cl</tspan><tspan x="879" y="1400">ip</tspan></text></g>
<g id="n_res5"><rect class="y" x="992.5" y="1362" width="87" height="42" rx="5"/><use xlink:href="#hm" x="1031" y="1358"/><text class="t" x="1036" y="1383">Resample (5)</text></g>
<g id="n_restrans"><ellipse class="g" cx="1199" cy="1391" rx="80" ry="21"/><text class="t" x="1199" y="1391">Resample_Transition</text></g>
<g id="n_aoi3"><ellipse class="b" cx="1210" cy="1345" rx="85" ry="18"/><text class="t tb" x="1210" y="1345">Area of Interest (3)</text></g>
<g id="n_cs7"><rect class="y" x="1359.5" y="1371" width="87" height="42" rx="5"/><use xlink:href="#hm" x="1398" y="1367"/><text class="t"><tspan x="1403" y="1386">Calculate</tspan><tspan x="1403" y="1398">Statistics (7)</tspan></text></g>
<g id="n_trclipres"><ellipse class="g" cx="1553" cy="1393" rx="65" ry="20"/><text class="t"><tspan x="1553" y="1387">Transition1km_Clip</tspan><tspan x="1553" y="1399">_Resample</tspan></text></g>
<g id="n_rc7"><rect class="y" x="1632.5" y="1385" width="145" height="26" rx="4"/><use xlink:href="#hm" x="1700" y="1381"/><text class="t tl" x="1705" y="1398">Raster Calculator (7)</text></g>
<g id="n_rsctrans"><ellipse class="g" cx="1728" cy="1346" rx="85" ry="20"/><text class="t" x="1728" y="1346">Rescale_Transition</text></g>
</svg>
